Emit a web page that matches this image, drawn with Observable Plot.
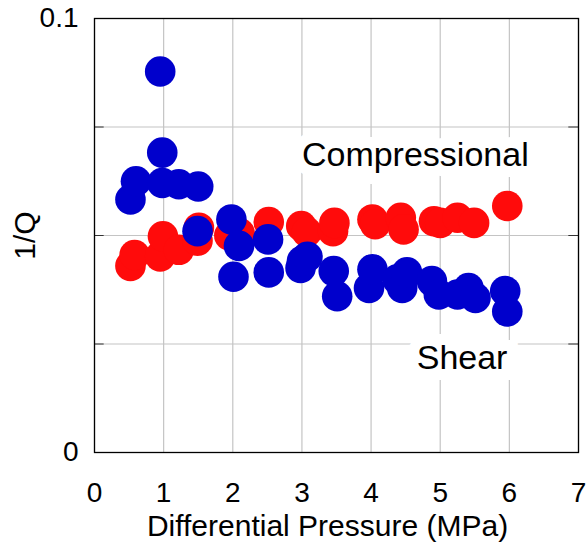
<!DOCTYPE html>
<html>
<head>
<meta charset="utf-8">
<script src="https://cdn.jsdelivr.net/npm/d3@7"></script>
<script src="https://cdn.jsdelivr.net/npm/@observablehq/plot@0.6"></script>
<style>
  html, body { margin: 0; padding: 0; background: white; }
</style>
</head>
<body>
<div id="chart"></div>
<script>
// Compressional (red) 1/Q vs differential pressure
const compX = [0.52, 0.58, 0.95, 0.99, 1.22, 1.49, 1.51, 1.95, 2.10, 2.52, 2.99, 3.07, 3.45, 3.47, 4.02, 4.06, 4.43, 4.47, 4.91, 5.00, 5.25, 5.49, 5.97];
const compY = [0.0430, 0.0455, 0.0452, 0.0498, 0.0467, 0.0488, 0.0518, 0.0500, 0.0505, 0.0531, 0.0522, 0.0508, 0.0510, 0.0529, 0.0537, 0.0526, 0.0541, 0.0514, 0.0533, 0.0529, 0.0541, 0.0529, 0.0568];
// Shear (blue)
const shearX = [0.52, 0.60, 0.95, 0.98, 0.98, 1.22, 1.50, 1.49, 1.98, 2.09, 2.51, 2.01, 2.52, 2.98, 3.00, 3.08, 3.46, 3.51, 3.97, 4.02, 4.38, 4.45, 4.52, 4.88, 4.98, 5.25, 5.41, 5.51, 5.94, 5.97];
const shearY = [0.0583, 0.0625, 0.0878, 0.0691, 0.0621, 0.0618, 0.0613, 0.0510, 0.0537, 0.0476, 0.0491, 0.0405, 0.0415, 0.0425, 0.0441, 0.0451, 0.0418, 0.0360, 0.0379, 0.0422, 0.0399, 0.0379, 0.0415, 0.0395, 0.0364, 0.0364, 0.0379, 0.0356, 0.0372, 0.0325];

const xTicks = [0, 1, 2, 3, 4, 5, 6, 7];
const yGrid = [0, 0.025, 0.05, 0.075, 0.1];
const yTickLabels = [0, 0.1];

const labelText = ["Compressional", "Shear"];
const labelX = [3.0, 4.66];
const labelY = [0.0685, 0.0217];

const xTitle = "Differential Pressure (MPa)";
const yTitle = "1/Q";

const comp = compX.map((x, i) => ({x, y: compY[i]}));
const shear = shearX.map((x, i) => ({x, y: shearY[i]}));
const labels = labelText.map((t, i) => ({text: t, x: labelX[i], y: labelY[i]}));

const RED = "#ff0b0b";
const BLUE = "#0000cc";

const chart = Plot.plot({
  width: 588,
  height: 546,
  marginLeft: 94,
  marginRight: 10,
  marginTop: 18,
  marginBottom: 94,
  x: {domain: [0, 7]},
  y: {domain: [0, 0.1]},
  style: {fontFamily: "'Liberation Sans', Arial, sans-serif", fontSize: "28px", color: "black", background: "white"},
  marks: [
    Plot.gridX(xTicks, {stroke: "#c4c4c4", strokeOpacity: 1, strokeWidth: 1.2}),
    Plot.gridY(yGrid, {stroke: "#c4c4c4", strokeOpacity: 1, strokeWidth: 1.2}),
    Plot.ruleY(yGrid, {x1: 0, x2: 0.14, stroke: "#333"}),
    Plot.ruleY(yGrid, {x1: 6.86, x2: 7, stroke: "#333"}),
    Plot.text(labels, {x: "x", y: "y", text: "text", textAnchor: "start", fontSize: 34, fill: "white", stroke: "white", strokeWidth: 22, strokeLinejoin: "miter"}),
    Plot.dot(comp, {x: "x", y: "y", r: 15.3, fill: RED}),
    Plot.dot(shear, {x: "x", y: "y", r: 15.3, fill: BLUE}),
    Plot.text(labels, {x: "x", y: "y", text: "text", textAnchor: "start", fontSize: 34, fill: "black"}),
    Plot.frame({stroke: "black", strokeWidth: 1.3}),
    Plot.axisX(xTicks, {tickSize: 0, tickPadding: 30, label: null}),
    Plot.axisY(yTickLabels, {tickSize: 0, tickPadding: 16, tickFormat: (d) => d === 0 ? "0" : "0.1", label: null}),
    Plot.text([xTitle], {text: (d) => d, frameAnchor: "bottom", dx: -9, dy: 74, fontSize: 30, textAnchor: "middle", lineAnchor: "middle"}),
    Plot.text([yTitle], {text: (d) => d, frameAnchor: "left", dx: -69, rotate: -90, fontSize: 30, textAnchor: "middle", lineAnchor: "middle"})
  ]
});
document.getElementById("chart").appendChild(chart);
</script>
</body>
</html>
